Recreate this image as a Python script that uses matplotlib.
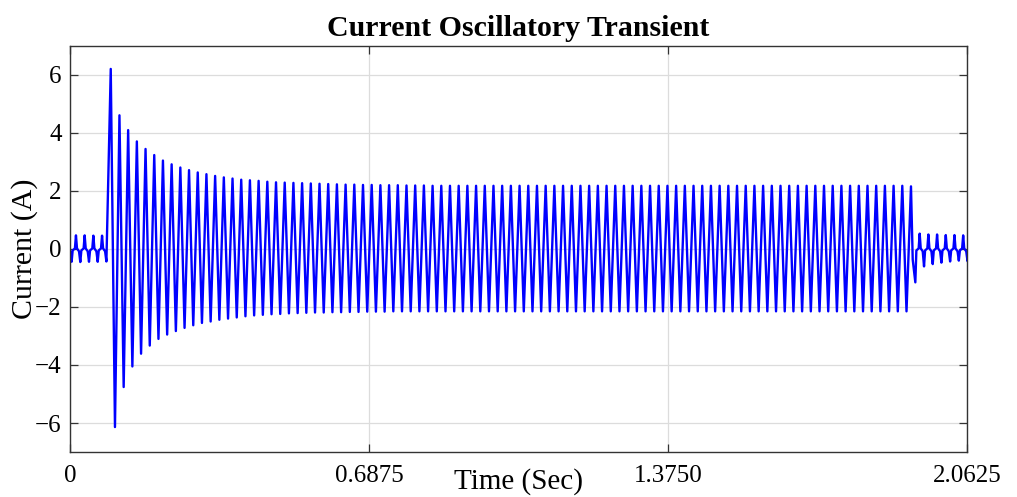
import matplotlib
matplotlib.use("Agg")
import matplotlib.pyplot as plt
import numpy as np

# ---------------- data ----------------
period = 0.02                      # 50 Hz
x_ticks = [0, 0.6875, 1.375, 2.0625]
x_tick_labels = ["0", "0.6875", "1.3750", "2.0625"]
y_ticks = [-6, -4, -2, 0, 2, 4, 6]

# small no-load waveform (before and after the burst)
small_phase = [0.0, 0.12, 0.35, 0.50, 0.62, 0.88]      # fraction of a period after a peak
small_plateau = [0.02, -0.08, -0.05, 0.02]               # levels between peak and dip
pre_first_peak_time = -0.0063
pre_peaks = [0.45, 0.47, 0.47, 0.46, 0.46]
pre_dips = [-0.44, -0.45, -0.44, -0.44, -0.43]

# oscillatory burst: positive peaks and negative troughs of every cycle
burst_first_peak_time = 0.0937
trough_delay = 0.0097
pos_peaks = [6.21, 4.61, 4.10, 3.71, 3.45, 3.24, 3.05, 2.92, 2.81, 2.72,
             2.64, 2.58, 2.52, 2.47, 2.43, 2.39, 2.37, 2.35, 2.32, 2.30,
             2.29, 2.28, 2.27, 2.26, 2.25, 2.24, 2.23, 2.22, 2.22, 2.21,
             2.21, 2.20, 2.20, 2.20, 2.19, 2.19, 2.19, 2.18, 2.18, 2.18,
             2.18, 2.18, 2.18, 2.18, 2.18, 2.18, 2.18, 2.18, 2.18, 2.18,
             2.18, 2.18, 2.18, 2.18, 2.18, 2.18, 2.18, 2.18, 2.18, 2.18,
             2.18, 2.18, 2.18, 2.18, 2.18, 2.18, 2.18, 2.18, 2.18, 2.18,
             2.18, 2.18, 2.18, 2.18, 2.18, 2.18, 2.18, 2.18, 2.18, 2.18,
             2.18, 2.18, 2.18, 2.18, 2.18, 2.18, 2.18, 2.18, 2.18, 2.18,
             2.18, 2.18, 2.16]
neg_troughs = [-6.14, -4.76, -4.05, -3.61, -3.33, -3.10, -2.95, -2.83, -2.72, -2.63,
               -2.55, -2.50, -2.44, -2.40, -2.36, -2.32, -2.29, -2.27, -2.25, -2.24,
               -2.22, -2.21, -2.20, -2.19, -2.19, -2.18, -2.18, -2.17, -2.17, -2.16,
               -2.16, -2.16, -2.15, -2.15, -2.15, -2.15, -2.15, -2.15, -2.15, -2.15,
               -2.15, -2.15, -2.15, -2.15, -2.15, -2.15, -2.15, -2.15, -2.15, -2.15,
               -2.15, -2.15, -2.15, -2.15, -2.15, -2.15, -2.15, -2.15, -2.15, -2.15,
               -2.15, -2.15, -2.15, -2.15, -2.15, -2.15, -2.15, -2.15, -2.15, -2.15,
               -2.15, -2.15, -2.15, -2.15, -2.15, -2.15, -2.15, -2.15, -2.15, -2.15,
               -2.15, -2.15, -2.15, -2.15, -2.15, -2.15, -2.15, -2.15, -2.15, -2.15,
               -2.15, -2.15]

# after the burst
tail_transition_phase = [0.2, 0.5, 0.62, 0.88]
tail_transition_value = [-0.37, -1.15, -0.05, 0.02]
post_peaks = [0.53, 0.50, 0.50, 0.48, 0.48, 0.47]
post_dips = [-0.60, -0.52, -0.47, -0.43, -0.40, -0.42]

# ---------------- build the waveform ----------------
t_list, v_list = [], []

def add_small_cycle(t_peak, pk, dp, t_limit=None):
    vals = [pk, small_plateau[0], small_plateau[1], dp, small_plateau[2], small_plateau[3]]
    for ph, v in zip(small_phase, vals):
        t = t_peak + ph * period
        if t_limit is not None and t >= t_limit:
            return
        t_list.append(t)
        v_list.append(v)

limit = burst_first_peak_time - 0.45 * period
for k, (pk, dp) in enumerate(zip(pre_peaks, pre_dips)):
    add_small_cycle(pre_first_peak_time + k * period, pk, dp, t_limit=limit)

for k, pk in enumerate(pos_peaks):
    tp = burst_first_peak_time + k * period
    t_list.append(tp)
    v_list.append(pk)
    if k < len(neg_troughs):
        t_list.append(tp + trough_delay)
        v_list.append(neg_troughs[k])

t_last = burst_first_peak_time + (len(pos_peaks) - 1) * period
for ph, v in zip(tail_transition_phase, tail_transition_value):
    t_list.append(t_last + ph * period)
    v_list.append(v)
for j, (pk, dp) in enumerate(zip(post_peaks, post_dips)):
    add_small_cycle(t_last + (j + 1) * period, pk, dp)

# ---------------- plot ----------------
plt.rcParams["font.family"] = ["Liberation Serif", "DejaVu Serif"]
plt.rcParams["axes.unicode_minus"] = True

fig = plt.figure(figsize=(10.17, 4.97), dpi=100)
ax = fig.add_axes([70 / 1017, 1 - 452 / 497, 897 / 1017, 406 / 497])

ax.plot(t_list, v_list, color="#0000ff", linewidth=1.7)

ax.set_xlim(0, 2.0625)
ax.set_ylim(-7, 7)
ax.set_xticks(x_ticks)
ax.set_xticklabels(x_tick_labels)
ax.set_yticks(y_ticks)
ax.set_yticklabels([f"{v}".replace("-", "\u2212") for v in y_ticks])

ax.grid(True, color="#dcdcdc", linewidth=0.9)
ax.set_axisbelow(True)
for s in ax.spines.values():
    s.set_color("#333333")
    s.set_linewidth(1.0)
ax.tick_params(direction="in", top=True, right=True, length=6, width=0.9,
               color="#333333", labelsize=18)
ax.tick_params(axis="x", pad=9)
ax.tick_params(axis="y", pad=6)

ax.set_title("Current Oscillatory Transient", fontsize=21.5, fontweight="bold", pad=7)
xl = ax.set_xlabel("Time (Sec)", fontsize=21)
xl.set_va("baseline")
ax.xaxis.set_label_coords(0.5, -0.091)
ax.set_ylabel("Current (A)", fontsize=21.5)
ax.yaxis.set_label_coords(-0.036, 0.5)

fig.savefig("out.png", dpi=100, facecolor="white")
